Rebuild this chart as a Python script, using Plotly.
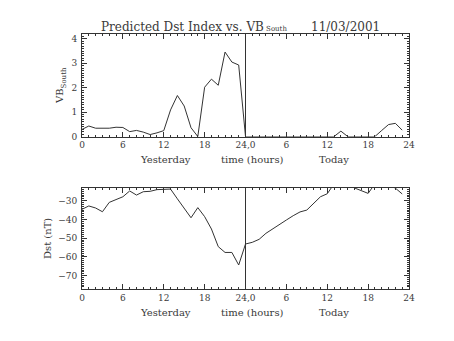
import plotly.graph_objects as go

# hours: 0-23 = yesterday, 24-47 = today
hours = list(range(48))

vb_south = [0.29, 0.43, 0.34, 0.34, 0.34, 0.38, 0.37, 0.20, 0.25, 0.18, 0.08, 0.15,
            0.24, 1.09, 1.68, 1.25, 0.36, 0.00, 2.02, 2.35, 2.10, 3.46, 3.05, 2.93,
            0.0, 0.0, 0.0, 0.0, 0.0, 0.0, 0.0, 0.0, 0.0, 0.0, 0.0, 0.0,
            0.0, 0.0, 0.22, 0.0, 0.0, 0.0, 0.0, 0.0, 0.25, 0.49, 0.54, 0.26]

dst = [-34.6, -32.8, -33.9, -35.9, -30.9, -29.6, -27.9, -24.8, -27.0, -25.2, -25.0, -24.1,
       -23.8, -23.8, -29.0, -34.1, -39.1, -33.7, -38.5, -45.1, -54.5, -57.6, -57.6, -64.3,
       -53.1, -52.2, -50.6, -47.4, -44.9, -42.6, -40.3, -38.0, -36.0, -35.0, -31.4, -27.9,
       -26.3, -21.0, -20.0, -20.0, -23.2, -24.7, -26.1, -21.0, -20.0, -21.5, -23.3, -26.4]

x_tickvals = [0, 6, 12, 18, 24, 30, 36, 42, 48]
x_ticktext = ["0", "6", "12", "18", "24,0", "6", "12", "18", "24"]
title_main = "Predicted Dst Index vs. VB<span style='font-size:7px'> South</span>"
title_date = "11/03/2001"

FONT = "DejaVu Serif"
INK = "#3a3a3a"
LINE = "#333333"
fig = go.Figure()

fig.add_trace(go.Scatter(x=hours, y=vb_south, mode="lines",
                         line=dict(color=LINE, width=1), xaxis="x", yaxis="y",
                         showlegend=False, cliponaxis=True))
fig.add_trace(go.Scatter(x=hours, y=dst, mode="lines",
                         line=dict(color=LINE, width=1), xaxis="x2", yaxis="y2",
                         showlegend=False, cliponaxis=True))

common_x = dict(range=[0, 48], tickmode="array", tickvals=x_tickvals, ticktext=x_ticktext,
                ticks="inside", ticklen=5, tickcolor=LINE, mirror="ticks", showline=True,
                linecolor=LINE, linewidth=1, showgrid=False, zeroline=False,
                tickfont=dict(family=FONT, size=9, color=INK),
                minor=dict(dtick=1, tick0=0, ticklen=2, ticks="inside", tickcolor=LINE))
common_y = dict(ticks="inside", ticklen=5, tickcolor=LINE, mirror="ticks", showline=True,
                linecolor=LINE, linewidth=1, showgrid=False, zeroline=False,
                tickfont=dict(family=FONT, size=9, color=INK), ticklabelstandoff=2)

fig.update_layout(
    width=454, height=341,
    margin=dict(l=82, r=45, t=34, b=52),
    paper_bgcolor="white", plot_bgcolor="white",
    xaxis=dict(domain=[0, 1], anchor="y", **common_x),
    yaxis=dict(domain=[0.598, 1], anchor="x", range=[0, 4.2], tickvals=[0, 1, 2, 3, 4],
               minor=dict(dtick=0.1, tick0=0, ticklen=2, ticks="inside", tickcolor=LINE),
               title=dict(text="VB<sub>South</sub>", font=dict(family=FONT, size=10, color=INK),
                          standoff=5),
               **common_y),
    xaxis2=dict(domain=[0, 1], anchor="y2", **common_x),
    yaxis2=dict(domain=[0, 0.397], anchor="x2", range=[-77.1, -23.1],
                tickvals=[-30, -40, -50, -60, -70],
                minor=dict(dtick=1, tick0=0, ticklen=2, ticks="inside", tickcolor=LINE),
                title=dict(text="Dst (nT)", font=dict(family=FONT, size=10, color=INK),
                           standoff=4),
                **common_y),
)

# vertical divider at midnight
for yr in ("y domain", "y2 domain"):
    xr = "x" if yr == "y domain" else "x2"
    fig.add_shape(type="line", xref=xr, yref=yr, x0=24, x1=24, y0=0, y1=1,
                  line=dict(color=LINE, width=1))

# x axis labels
labels = [("Yesterday", 12.2), ("time (hours)", 25.1), ("Today", 37.0)]
for xr, yr in (("x", "y domain"), ("x2", "y2 domain")):
    for txt, xv in labels:
        fig.add_annotation(text=txt, xref=xr, yref=yr, x=xv, y=0, yshift=-23,
                           xanchor="center", yanchor="middle", showarrow=False,
                           font=dict(family=FONT, size=10, color=INK))

# title
fig.add_annotation(text=title_main, xref="paper", yref="paper", x=(99 - 82) / 327, y=1.0,
                   yshift=-2, xanchor="left", yanchor="bottom", showarrow=False,
                   font=dict(family=FONT, size=12, color=INK))
fig.add_annotation(text=title_date, xref="paper", yref="paper", x=(309 - 82) / 327, y=1.0,
                   yshift=-2, xanchor="left", yanchor="bottom", showarrow=False,
                   font=dict(family=FONT, size=12, color=INK))

fig.write_html("out.html")
